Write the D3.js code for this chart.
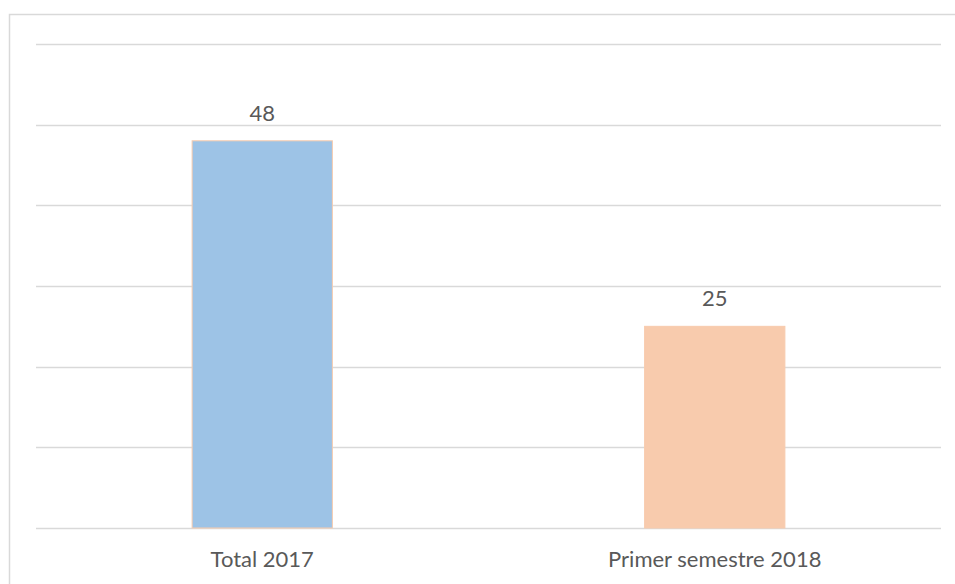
<!DOCTYPE html>
<html>
<head>
<meta charset="utf-8">
<script src="https://cdn.jsdelivr.net/npm/d3@7/dist/d3.min.js"></script>
<style>
  html, body { margin: 0; padding: 0; background: #fff; }
  svg { display: block; }
  text { font-family: Lato, "Open Sans", "DejaVu Sans", sans-serif; fill: #595959; }
</style>
</head>
<body>
<svg id="chart" width="955" height="584"></svg>
<script>
// Data
const categories = ["Total 2017", "Primer semestre 2018"];
const values = [48, 25];
const barColors = ["#9dc3e6", "#f8cbad"];
const yTicks = [0, 10, 20, 30, 40, 50, 60];

const svg = d3.select("#chart");
const plot = { left: 36, right: 941, top: 44, bottom: 528 };
const fontSize = 22;

// Outer chart frame (extends beyond the canvas on the right and bottom)
svg.append("rect")
  .attr("x", 9.5).attr("y", 14.5)
  .attr("width", 980).attr("height", 620)
  .attr("fill", "#fff")
  .attr("stroke", "#d9d9d9")
  .attr("stroke-width", 1.5);

const x = d3.scaleBand()
  .domain(categories)
  .range([plot.left, plot.right])
  .paddingInner(0.69)
  .paddingOuter(0.345);

const y = d3.scaleLinear()
  .domain([0, 60])
  .range([plot.bottom, plot.top]);

// Horizontal gridlines
svg.append("g")
  .selectAll("line")
  .data(yTicks)
  .join("line")
  .attr("x1", plot.left).attr("x2", plot.right)
  .attr("y1", d => Math.round(y(d)) + 0.5)
  .attr("y2", d => Math.round(y(d)) + 0.5)
  .attr("stroke", "#d9d9d9")
  .attr("stroke-width", 1.5);

// Bars
svg.append("g")
  .selectAll("rect")
  .data(values)
  .join("rect")
  .attr("x", (d, i) => x(categories[i]))
  .attr("y", d => y(d))
  .attr("width", x.bandwidth())
  .attr("height", d => y(0) - y(d))
  .attr("fill", (d, i) => barColors[i])
  .attr("stroke", "#f8cbad")
  .attr("stroke-width", 1);

// Value labels
svg.append("g")
  .selectAll("text")
  .data(values)
  .join("text")
  .attr("x", (d, i) => x(categories[i]) + x.bandwidth() / 2)
  .attr("y", d => y(d) - 20)
  .attr("text-anchor", "middle")
  .attr("font-size", fontSize)
  .text(d => d);

// Category axis labels
const xAxis = d3.axisBottom(x).tickSize(0).tickPadding(23);
const gx = svg.append("g")
  .attr("transform", `translate(0,${plot.bottom})`)
  .call(xAxis);
gx.select(".domain").remove();
gx.selectAll("text")
  .attr("font-size", fontSize)
  .style("font-family", "Lato, 'Open Sans', sans-serif")
  .attr("fill", "#595959");
</script>
</body>
</html>
